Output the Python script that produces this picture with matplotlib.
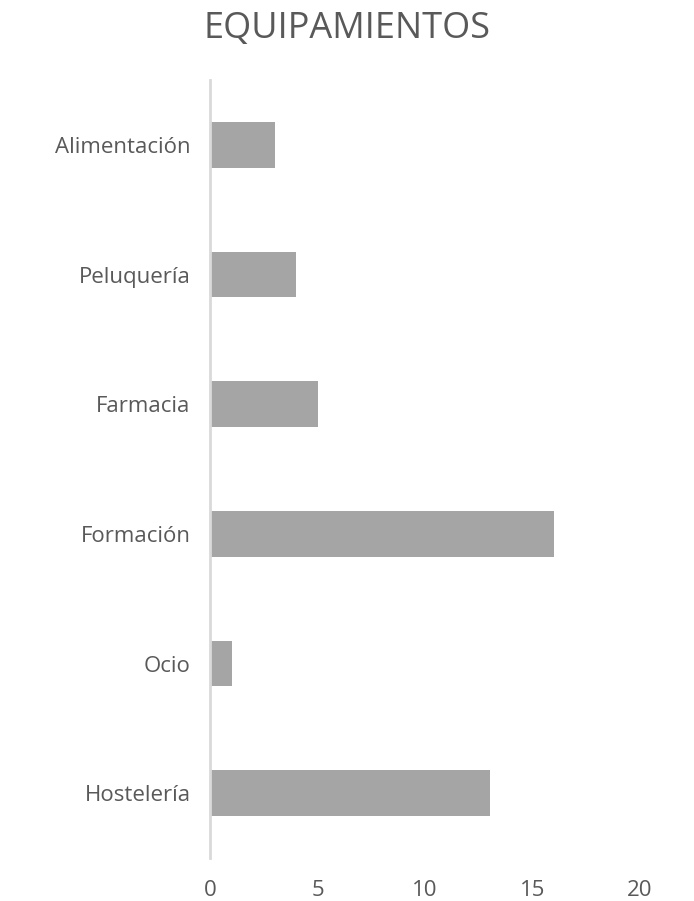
import matplotlib.pyplot as plt

plt.rcParams['font.family'] = ['Open Sans', 'DejaVu Sans']

categories = ['Alimentación', 'Peluquería', 'Farmacia', 'Formación', 'Ocio', 'Hostelería']
values = [3, 4, 5, 16, 1, 13]
xticks = [0, 5, 10, 15, 20]

fig = plt.figure(figsize=(6.94, 9.01), dpi=100)
ax = fig.add_axes([0.3026, 0.0477, 0.6196, 0.8635])

ax.barh(range(len(categories)), values, height=0.35, color='#a5a5a5')
ax.set_ylim(5.5, -0.5)
ax.set_xlim(0, 20)
ax.set_yticks(range(len(categories)))
ax.set_yticklabels(categories)
ax.set_xticks(xticks)

for s in ['top', 'right', 'bottom']:
    ax.spines[s].set_visible(False)
ax.spines['left'].set_color('#d9d9d9')
ax.spines['left'].set_linewidth(2)
ax.tick_params(length=0, labelsize=16, labelcolor='#595959')
ax.tick_params(axis='y', pad=14)
ax.tick_params(axis='x', pad=16)

fig.text(0.5, 0.968, 'EQUIPAMIENTOS', ha='center', va='center', fontsize=26, color='#595959')

fig.savefig('out.png', dpi=100)
